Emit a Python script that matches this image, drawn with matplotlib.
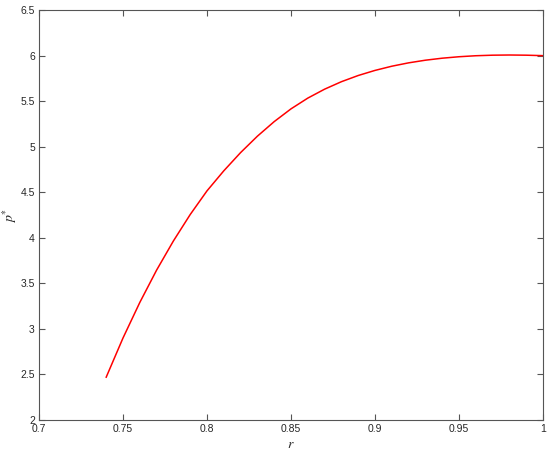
import matplotlib
matplotlib.use("Agg")
import matplotlib.pyplot as plt

# p* versus r
r_vals = [0.74, 0.75, 0.76, 0.77, 0.78, 0.79, 0.80, 0.81, 0.82, 0.83,
          0.84, 0.85, 0.86, 0.87, 0.88, 0.89, 0.90, 0.91, 0.92, 0.93, 0.94,
          0.95, 0.96, 0.97, 0.98, 0.99, 1.00]
p_vals = [2.47, 2.90, 3.29, 3.645, 3.965, 4.255, 4.515, 4.735, 4.935, 5.115,
          5.275, 5.415, 5.533, 5.631, 5.713, 5.781, 5.837, 5.883, 5.920, 5.949,
          5.971, 5.987, 5.998, 6.004, 6.006, 6.004, 5.999]

x_ticks = [0.7, 0.75, 0.8, 0.85, 0.9, 0.95, 1]
x_labels = ["0.7", "0.75", "0.8", "0.85", "0.9", "0.95", "1"]
y_ticks = [2, 2.5, 3, 3.5, 4, 4.5, 5, 5.5, 6, 6.5]
y_labels = ["2", "2.5", "3", "3.5", "4", "4.5", "5", "5.5", "6", "6.5"]

plt.rcParams["font.family"] = ["Liberation Sans", "DejaVu Sans"]
plt.rcParams["mathtext.fontset"] = "stix"

fig = plt.figure(figsize=(5.5, 4.53), dpi=100)
ax = fig.add_axes([39 / 550, 33 / 453, 504 / 550, 410 / 453])

ax.plot(r_vals, p_vals, color="#ff0000", lw=1.1)

ax.set_xlim(0.7, 1.0)
ax.set_ylim(2, 6.5)
ax.set_xticks(x_ticks, x_labels)
ax.set_yticks(y_ticks, y_labels)
ax.tick_params(direction="in", length=4, width=0.8, colors="#555555",
               labelcolor="#262626", labelsize=7.5, top=True, right=True, pad=3)
for s in ax.spines.values():
    s.set_color("#555555")
    s.set_linewidth(0.8)

ax.set_xlabel(r"$r$", fontsize=10, color="#262626", labelpad=2)
ax.set_ylabel(r"$p^{*}$", fontsize=10, color="#262626", labelpad=1)

fig.savefig("out.png", dpi=100)
